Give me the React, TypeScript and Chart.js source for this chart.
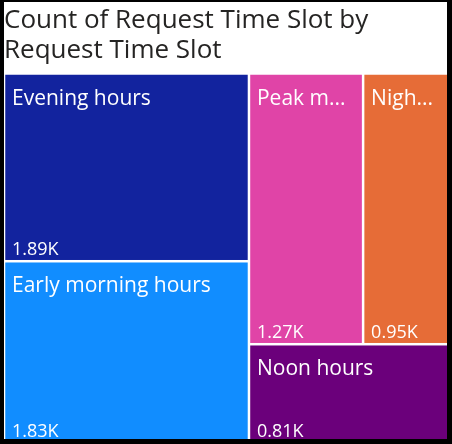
import React, { useEffect, useRef } from "react";
import { Chart, registerables } from "chart.js";

Chart.register(...registerables);

const categories = ["Evening hours", "Early morning hours", "Peak morning hours", "Night hours", "Noon hours"];
const counts = [1890, 1830, 1270, 950, 810];
const tileColors = ["#12239E", "#118DFF", "#E044A7", "#E66C37", "#6B007B"];
const titleLines = ["Count of Request Time Slot by", "Request Time Slot"];

const PHI = (1 + Math.sqrt(5)) / 2;

type Rect = { x0: number; y0: number; x1: number; y1: number };

// d3-style squarified treemap layout (golden ratio target)
function squarify(values: number[], X0: number, Y0: number, X1: number, Y1: number, ratio: number): Rect[] {
  const out: Rect[] = new Array(values.length);
  let x0 = X0, y0 = Y0, x1 = X1, y1 = Y1;
  let value = values.reduce((a, b) => a + b, 0);
  let i0 = 0, i1 = 0;
  const n = values.length;
  while (i0 < n) {
    const dx = x1 - x0, dy = y1 - y0;
    let sumValue = values[i1++];
    let minValue = sumValue, maxValue = sumValue;
    const alpha = Math.max(dy / dx, dx / dy) / (value * ratio);
    let beta = sumValue * sumValue * alpha;
    let minRatio = Math.max(maxValue / beta, beta / minValue);
    for (; i1 < n; ++i1) {
      const nv = values[i1];
      sumValue += nv;
      if (nv < minValue) minValue = nv;
      if (nv > maxValue) maxValue = nv;
      beta = sumValue * sumValue * alpha;
      const newRatio = Math.max(maxValue / beta, beta / minValue);
      if (newRatio > minRatio) { sumValue -= nv; break; }
      minRatio = newRatio;
    }
    const dice = dx < dy;
    if (dice) {
      const ry1 = dy ? y0 + (dy * sumValue) / value : y1;
      let cx = x0;
      for (let i = i0; i < i1; i++) {
        const w = ((x1 - x0) * values[i]) / sumValue;
        out[i] = { x0: cx, y0: y0, x1: cx + w, y1: ry1 };
        cx += w;
      }
      y0 = ry1;
    } else {
      const rx1 = dx ? x0 + (dx * sumValue) / value : x1;
      let cy = y0;
      for (let i = i0; i < i1; i++) {
        const h = ((y1 - y0) * values[i]) / sumValue;
        out[i] = { x0: x0, y0: cy, x1: rx1, y1: cy + h };
        cy += h;
      }
      x0 = rx1;
    }
    value -= sumValue;
    i0 = i1;
  }
  return out;
}

function fmtK(v: number) {
  return (v / 1000).toFixed(2) + "K";
}

function fitText(ctx: CanvasRenderingContext2D, text: string, maxW: number) {
  if (ctx.measureText(text).width <= maxW) return text;
  for (let k = text.length - 1; k > 0; k--) {
    const t = text.slice(0, k).trimEnd() + "...";
    if (ctx.measureText(t).width <= maxW) return t;
  }
  return "";
}

function tilePixels(chart: any): Rect[] {
  const { chartArea, scales } = chart;
  const W = chartArea.right - chartArea.left;
  const H = chartArea.bottom - chartArea.top;
  const rects = squarify(counts, 0, 0, W, H, PHI);
  return rects.map((r) => ({
    x0: scales.x.getPixelForValue(r.x0 / W),
    x1: scales.x.getPixelForValue(r.x1 / W),
    y0: scales.y.getPixelForValue(r.y0 / H),
    y1: scales.y.getPixelForValue(r.y1 / H),
  }));
}

const treemapPlugin = {
  id: "treemapTiles",
  beforeDraw(chart: any) {
    const ctx = chart.ctx;
    ctx.save();
    ctx.fillStyle = "#ffffff";
    ctx.fillRect(0, 0, chart.width, chart.height);
    ctx.restore();
  },
  beforeDatasetsDraw(chart: any) {
    const ctx = chart.ctx as CanvasRenderingContext2D;
    const px = tilePixels(chart);
    const gap = 1.25;
    ctx.save();
    px.forEach((r, i) => {
      ctx.fillStyle = tileColors[i];
      ctx.fillRect(r.x0 + gap, r.y0 + gap, r.x1 - r.x0 - 2 * gap, r.y1 - r.y0 - 2 * gap);
    });
    ctx.restore();
  },
  afterDatasetsDraw(chart: any) {
    const ctx = chart.ctx as CanvasRenderingContext2D;
    const px = tilePixels(chart);
    px.forEach((r, i) => {
      ctx.save();
      ctx.beginPath();
      ctx.rect(r.x0, r.y0, r.x1 - r.x0, r.y1 - r.y0);
      ctx.clip();
      ctx.fillStyle = "#ffffff";
      ctx.textAlign = "left";
      ctx.textBaseline = "alphabetic";
      ctx.font = "21px 'Open Sans'";
      const avail = r.x1 - r.x0 - 18;
      ctx.fillText(fitText(ctx, categories[i], avail), r.x0 + 8, r.y0 + 31);
      ctx.font = "18px 'Open Sans'";
      ctx.fillText(fmtK(counts[i]), r.x0 + 8, r.y1 - 6);
      ctx.restore();
    });
  },
  afterDraw(chart: any) {
    const ctx = chart.ctx as CanvasRenderingContext2D;
    ctx.save();
    ctx.fillStyle = "#000000";
    ctx.fillRect(0, 0, 4, chart.height);
    ctx.fillRect(0, 0, chart.width, 2);
    ctx.fillRect(chart.width - 5, 0, 5, chart.height);
    ctx.fillRect(0, chart.height - 5, chart.width, 5);
    ctx.restore();
  },
};

export default function App() {
  const ref = useRef<HTMLCanvasElement | null>(null);
  useEffect(() => {
    if (!ref.current) return;
    const chart = new Chart(ref.current, {
      type: "scatter",
      data: { datasets: [{ data: [] as any[] }] },
      options: {
        animation: false,
        responsive: false,
        layout: { padding: { left: 4, top: 2, right: 3.5, bottom: 1 } },
        scales: {
          x: { type: "linear", min: 0, max: 1, display: false },
          y: { type: "linear", min: 0, max: 1, reverse: true, display: false },
        },
        plugins: {
          legend: { display: false },
          tooltip: { enabled: false },
          title: {
            display: true,
            text: titleLines,
            align: "start",
            color: "#252423",
            font: { family: "'Open Sans'", size: 26, weight: "normal", lineHeight: 30 / 26 },
            padding: { top: 4, bottom: 7.5 },
          },
        },
      },
      plugins: [treemapPlugin],
    } as any);
    return () => chart.destroy();
  }, []);
  return (
    <div style={{ position: "absolute", left: 0, top: 0, width: 452, height: 444 }}>
      <canvas ref={ref} width={452} height={444} style={{ display: "block" }} />
    </div>
  );
}
